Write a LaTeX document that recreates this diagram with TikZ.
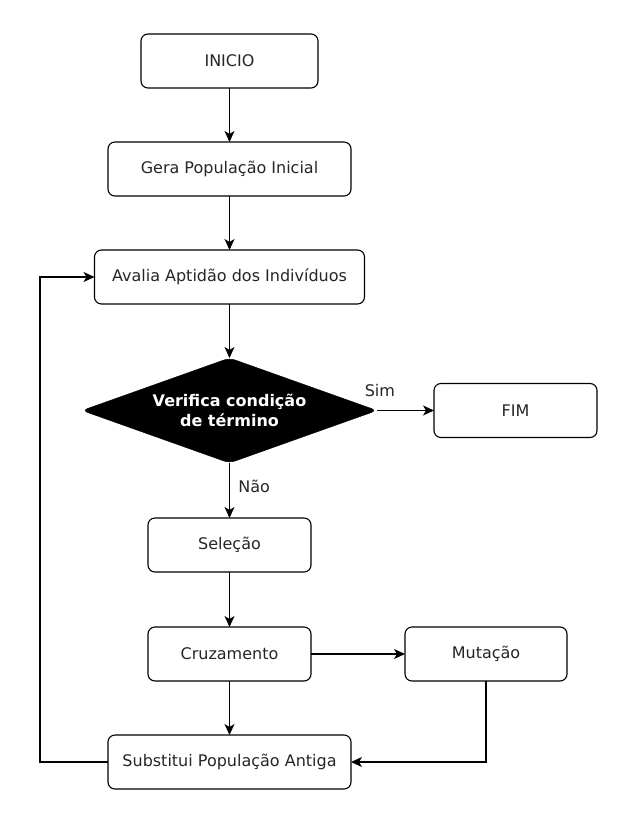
\documentclass[tikz,border=0pt]{standalone}
\usepackage{fontspec}
\setmainfont{DejaVu Sans}
\usepackage{tikz}
\usetikzlibrary{shapes.geometric, arrows.meta, positioning}
\tikzset{
    block/.style={
        rectangle,
        draw=black,
        line width=1.1pt,
        rounded corners=7pt,
        minimum height=54pt,
        outer sep=0pt,
        fill=white,
        text=black!85,
        font=\fontsize{16}{20}\selectfont
    },
    decision/.style={
        diamond,
        draw=black,
        fill=black,
        rounded corners=6pt,
        shape aspect=2.8,
        inner sep=0pt,
        outer sep=0pt,
        minimum width=295pt,
        minimum height=105pt,
        align=center,
        text=white,
        font=\fontsize{16}{20}\selectfont\bfseries
    },
    flow/.style={
        draw=black,
        line width=1.1pt,
        -{Stealth[length=11pt, width=10pt, inset=3pt]}
    },
    flowlabel/.style={
        text=black!85,
        font=\fontsize{16}{20}\selectfont
    }
}

\begin{document}
\begin{tikzpicture}[node distance=54pt and 94pt]

\useasboundingbox (0pt,0pt) rectangle (627pt,-821pt);

% Main column
\node[block, minimum width=177pt] (inicio) at (229.5pt,-61pt) {INICIO};
\node[block, minimum width=243pt, below=54pt of inicio] (gera) {Gera População Inicial};
\node[block, minimum width=270pt, below=54pt of gera] (avalia) {Avalia Aptidão dos Indivíduos};
\node[decision, below=54pt of avalia] (verifica) {Verifica condição\\de término};
\node[block, minimum width=163pt, below=55pt of verifica] (selecao) {Seleção};
\node[block, minimum width=163pt, below=55pt of selecao] (cruzamento) {Cruzamento};
\node[block, minimum width=243pt, below=54pt of cruzamento] (substitui) {Substitui População Antiga};

% Side boxes
\node[block, minimum width=163pt, right=57pt of verifica] (fim) {FIM};
\node[block, minimum width=162pt, right=94pt of cruzamento] (mutacao) {Mutação};

% Connections
\draw[flow] (inicio) -- (gera);
\draw[flow] (gera) -- (avalia);
\draw[flow] (avalia) -- (verifica);
\draw[flow] (verifica.east) -- node[flowlabel, pos=0.05, above=10pt] {Sim} (fim.west);
\draw[flow] (verifica.south) -- node[flowlabel, pos=0.42, right=5pt] {Não} (selecao.north);
\draw[flow] (selecao) -- (cruzamento);
\draw[flow] (cruzamento) -- (mutacao);
\draw[flow] (cruzamento) -- (substitui);
\draw[flow] (mutacao.south) |- (substitui.east);

% Loop back
\draw[flow] (substitui.west) -- ++(-68pt,0) |- (avalia.west);

\end{tikzpicture}
\end{document}
